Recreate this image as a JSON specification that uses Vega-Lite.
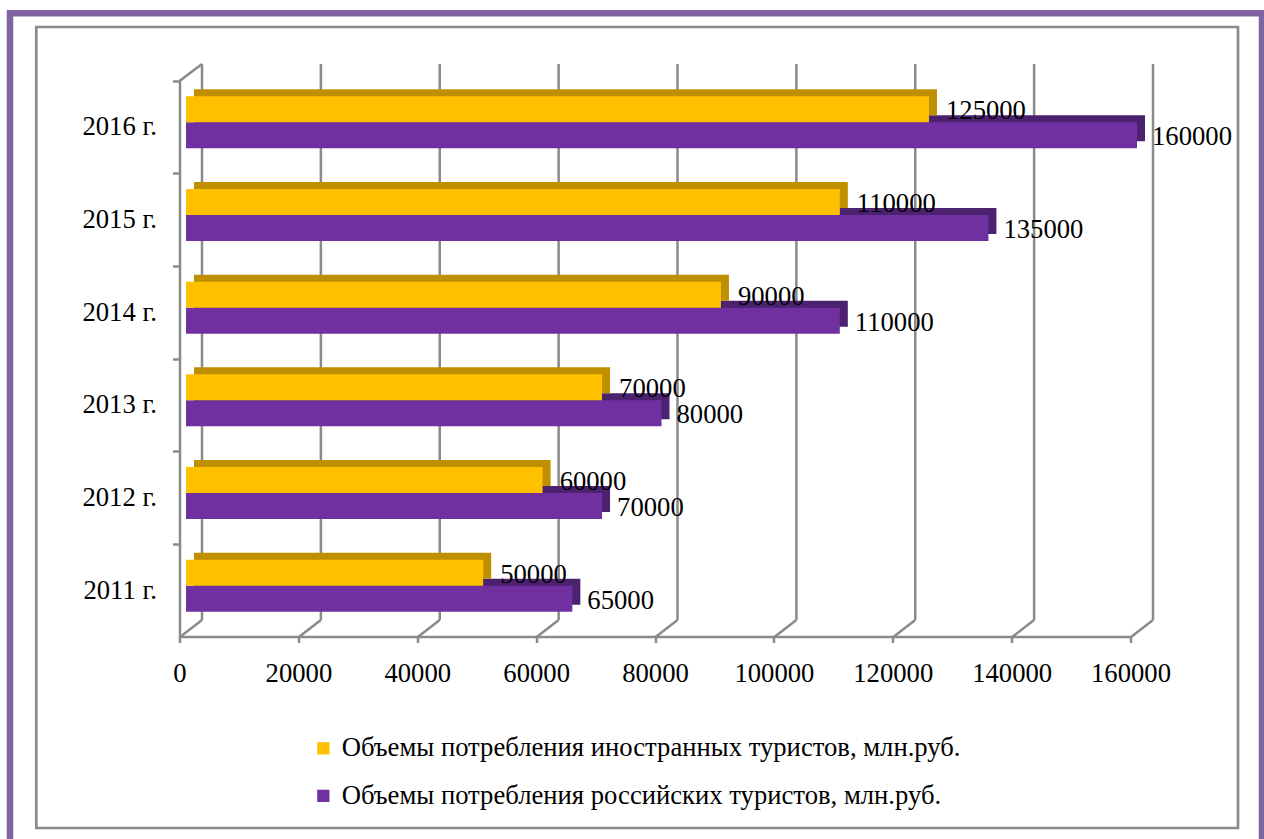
{
  "$schema": "https://vega.github.io/schema/vega-lite/v6.json",
  "width": 951,
  "height": 556,
  "autosize": {"type": "none"},
  "padding": {"left": 186, "top": 81, "right": 127, "bottom": 202},
  "background": "white",
  "config": {
    "view": {"stroke": null},
    "font": "Liberation Serif",
    "text": {"font": "Liberation Serif"},
    "axis": {"labelFont": "Liberation Serif", "labelFontSize": 26.67, "labelColor": "#000000", "labelFlush": false, "labelOverlap": false},
    "legend": {"labelFont": "Liberation Serif", "labelFontSize": 26.67, "labelColor": "#000000"}
  },
  "datasets": {
    "tourism": [
      {"year": "2011 г.", "series": "Объемы потребления иностранных туристов, млн.руб.", "value": 50000},
      {"year": "2011 г.", "series": "Объемы потребления российских туристов, млн.руб.", "value": 65000},
      {"year": "2012 г.", "series": "Объемы потребления иностранных туристов, млн.руб.", "value": 60000},
      {"year": "2012 г.", "series": "Объемы потребления российских туристов, млн.руб.", "value": 70000},
      {"year": "2013 г.", "series": "Объемы потребления иностранных туристов, млн.руб.", "value": 70000},
      {"year": "2013 г.", "series": "Объемы потребления российских туристов, млн.руб.", "value": 80000},
      {"year": "2014 г.", "series": "Объемы потребления иностранных туристов, млн.руб.", "value": 90000},
      {"year": "2014 г.", "series": "Объемы потребления российских туристов, млн.руб.", "value": 110000},
      {"year": "2015 г.", "series": "Объемы потребления иностранных туристов, млн.руб.", "value": 110000},
      {"year": "2015 г.", "series": "Объемы потребления российских туристов, млн.руб.", "value": 135000},
      {"year": "2016 г.", "series": "Объемы потребления иностранных туристов, млн.руб.", "value": 125000},
      {"year": "2016 г.", "series": "Объемы потребления российских туристов, млн.руб.", "value": 160000}
    ],
    "grid": [
      {"v": 0}, {"v": 20000}, {"v": 40000}, {"v": 60000}, {"v": 80000},
      {"v": 100000}, {"v": 120000}, {"v": 140000}, {"v": 160000}
    ]
  },
  "layer": [
    {
      "data": {"values": [{}]},
      "mark": {"type": "rect", "fill": "transparent", "stroke": "#8064A2", "strokeWidth": 6.5,
               "xOffset": -176, "x2Offset": 125, "yOffset": -67.7, "y2Offset": 208},
      "encoding": {"x": {"value": 0}, "x2": {"value": "width"}, "y": {"value": 0}, "y2": {"value": "height"}}
    },
    {
      "data": {"values": [{}]},
      "mark": {"type": "rect", "fill": "transparent", "stroke": "#8a8a8a", "strokeWidth": 2.7,
               "xOffset": -149.7, "x2Offset": 101, "yOffset": -54, "y2Offset": 191},
      "encoding": {"x": {"value": 0}, "x2": {"value": "width"}, "y": {"value": 0}, "y2": {"value": "height"}}
    },
    {
      "data": {"name": "grid"},
      "mark": {"type": "rule", "color": "#8a8a8a", "strokeWidth": 2.5, "xOffset": 16, "yOffset": -17, "y2Offset": -17},
      "encoding": {
        "x": {"field": "v", "type": "quantitative", "axis": {"title": null}, "scale": {"domain": [0, 160000], "nice": false}},
        "y": {"value": 0},
        "y2": {"value": "height"}
      }
    },
    {
      "data": {"name": "grid"},
      "mark": {"type": "rule", "color": "#8a8a8a", "strokeWidth": 2.5, "xOffset": -6, "x2Offset": 16, "y2Offset": -17},
      "encoding": {
        "x": {"field": "v", "type": "quantitative", "axis": {"title": null}},
        "x2": {"field": "v"},
        "y": {"value": "height"},
        "y2": {"value": "height"}
      }
    },
    {
      "data": {"values": [{}]},
      "mark": {"type": "rule", "color": "#8a8a8a", "strokeWidth": 2.5, "xOffset": -6.5, "x2Offset": 16, "y2Offset": -17},
      "encoding": {
        "x": {"datum": 0, "type": "quantitative", "axis": {"title": null}},
        "x2": {"datum": 0},
        "y": {"value": 0},
        "y2": {"value": 0}
      }
    },
    {
      "data": {"name": "tourism"},
      "transform": [{"filter": "datum.series === 'Объемы потребления российских туристов, млн.руб.'"}],
      "mark": {"type": "bar", "color": "#4B2170", "height": {"band": 0.28}, "xOffset": 8, "x2Offset": 8, "yOffset": 1},
      "encoding": {
        "x": {"field": "value", "type": "quantitative", "axis": {"title": null}},
        "y": {"field": "year", "type": "nominal", "sort": ["2016 г.", "2015 г.", "2014 г.", "2013 г.", "2012 г.", "2011 г."], "axis": {"title": null},
              "scale": {"paddingInner": 0, "paddingOuter": 0}}
      }
    },
    {
      "data": {"name": "tourism"},
      "transform": [{"filter": "datum.series === 'Объемы потребления российских туристов, млн.руб.'"}],
      "mark": {"type": "bar", "height": {"band": 0.28}, "yOffset": 8},
      "encoding": {
        "x": {"field": "value", "type": "quantitative", "axis": {"title": null}},
        "y": {"field": "year", "type": "nominal", "sort": ["2016 г.", "2015 г.", "2014 г.", "2013 г.", "2012 г.", "2011 г."], "axis": {"title": null}},
        "color": {"field": "series", "type": "nominal", "legend": {"title": null}}
      }
    },
    {
      "data": {"name": "tourism"},
      "transform": [{"filter": "datum.series === 'Объемы потребления иностранных туристов, млн.руб.'"}],
      "mark": {"type": "bar", "color": "#C08F00", "height": {"band": 0.28}, "xOffset": 8, "x2Offset": 8, "yOffset": -25},
      "encoding": {
        "x": {"field": "value", "type": "quantitative", "axis": {"title": null}},
        "y": {"field": "year", "type": "nominal", "sort": ["2016 г.", "2015 г.", "2014 г.", "2013 г.", "2012 г.", "2011 г."], "axis": {"title": null}}
      }
    },
    {
      "data": {"name": "tourism"},
      "transform": [{"filter": "datum.series === 'Объемы потребления иностранных туристов, млн.руб.'"}],
      "mark": {"type": "bar", "height": {"band": 0.28}, "yOffset": -18},
      "encoding": {
        "x": {
          "field": "value", "type": "quantitative",
          "axis": {
            "title": null, "values": [0, 20000, 40000, 60000, 80000, 100000, 120000, 140000, 160000],
            "format": "d", "grid": false, "translate": -6, "offset": 6,
            "domainColor": "#8a8a8a", "domainWidth": 2.5, "tickColor": "#8a8a8a", "tickWidth": 2.5, "tickSize": 6,
            "labelFont": "Liberation Serif", "labelFontSize": 26.67, "labelColor": "#000000", "labelPadding": 18,
            "labelFlush": false, "labelOverlap": false
          }
        },
        "y": {
          "field": "year", "type": "nominal", "sort": ["2016 г.", "2015 г.", "2014 г.", "2013 г.", "2012 г.", "2011 г."],
          "axis": {
            "title": null, "offset": 6.5, "bandPosition": 0,
            "domainColor": "#8a8a8a", "domainWidth": 2.5, "tickColor": "#8a8a8a", "tickWidth": 2.5, "tickSize": 7,
            "labelFont": "Liberation Serif", "labelFontSize": 26.67, "labelColor": "#000000", "labelPadding": 16
          }
        },
        "color": {
          "field": "series", "type": "nominal",
          "scale": {
            "domain": ["Объемы потребления иностранных туристов, млн.руб.", "Объемы потребления российских туристов, млн.руб."],
            "range": ["#FFC000", "#7030A0"]
          },
          "legend": {
            "title": null, "orient": "none", "legendX": 124, "legendY": 654,
            "symbolType": "square", "symbolSize": 150, "symbolStrokeWidth": 0, "symbolOpacity": 1,
            "labelFont": "Liberation Serif", "labelFontSize": 26.67, "labelColor": "#000000", "labelLimit": 0,
            "labelOffset": 5, "rowPadding": 19.5
          }
        }
      }
    },
    {
      "data": {"name": "tourism"},
      "transform": [{"filter": "datum.series === 'Объемы потребления иностранных туристов, млн.руб.'"}],
      "mark": {"type": "text", "align": "left", "baseline": "middle", "dx": 17, "yOffset": -16, "fontSize": 26.67, "color": "#000000"},
      "encoding": {
        "x": {"field": "value", "type": "quantitative", "axis": {"title": null}},
        "y": {"field": "year", "type": "nominal", "sort": ["2016 г.", "2015 г.", "2014 г.", "2013 г.", "2012 г.", "2011 г."], "axis": {"title": null}},
        "text": {"field": "value", "type": "quantitative", "format": "d"}
      }
    },
    {
      "data": {"name": "tourism"},
      "transform": [{"filter": "datum.series === 'Объемы потребления российских туристов, млн.руб.'"}],
      "mark": {"type": "text", "align": "left", "baseline": "middle", "dx": 15, "yOffset": 10, "fontSize": 26.67, "color": "#000000"},
      "encoding": {
        "x": {"field": "value", "type": "quantitative", "axis": {"title": null}},
        "y": {"field": "year", "type": "nominal", "sort": ["2016 г.", "2015 г.", "2014 г.", "2013 г.", "2012 г.", "2011 г."], "axis": {"title": null}},
        "text": {"field": "value", "type": "quantitative", "format": "d"}
      }
    }
  ]
}
